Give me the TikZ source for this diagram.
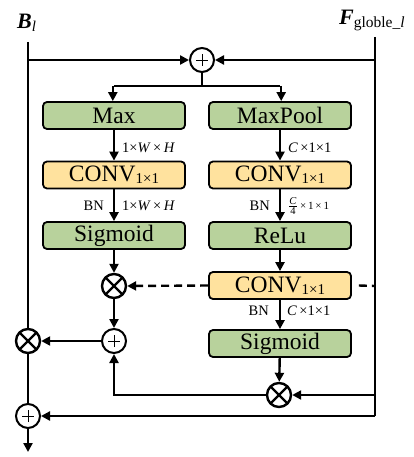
\documentclass[tikz,border=0pt]{standalone}
\usepackage{fontspec}
\setmainfont{Liberation Serif}
\usetikzlibrary{arrows.meta}
\definecolor{boxgreen}{RGB}{184,210,156}
\definecolor{boxyellow}{RGB}{255,226,158}
\tikzset{
  lw/.style={line width=2.4pt},
  arr/.style={lw,-{Triangle[length=9pt,width=9pt]}},
  gbox/.style={draw,line width=1.8pt,rounded corners=4pt,fill=boxgreen,minimum width=142pt,minimum height=27pt,inner sep=0pt,font=\fontsize{23.5}{25}\selectfont},
  ybox/.style={gbox,fill=boxyellow},
  oplus/.style={circle,draw,line width=2pt,minimum size=24pt,inner sep=0pt,fill=white,
    path picture={\draw[line width=0.9pt] ([xshift=-6pt]path picture bounding box.center) -- ([xshift=6pt]path picture bounding box.center);
      \draw[line width=0.9pt] ([yshift=-6pt]path picture bounding box.center) -- ([yshift=6pt]path picture bounding box.center);}},
  otimes/.style={circle,draw,line width=2.4pt,minimum size=24pt,inner sep=0pt,fill=white,
    path picture={\draw[line width=2.4pt] ([shift={(-8.5pt,-8.5pt)}]path picture bounding box.center) -- ([shift={(8.5pt,8.5pt)}]path picture bounding box.center);
      \draw[line width=2.4pt] ([shift={(-8.5pt,8.5pt)}]path picture bounding box.center) -- ([shift={(8.5pt,-8.5pt)}]path picture bounding box.center);}},
  lbl/.style={font=\fontsize{14.5}{16}\selectfont,inner sep=0pt},
}
\newcommand{\convtxt}{CONV\raisebox{-2pt}{\fontsize{15}{16}\selectfont 1×1}}
\begin{document}
\begin{tikzpicture}[x=1pt,y=-1pt]
\useasboundingbox (0,0) rectangle (413,457);
% labels
\node[anchor=base west,inner sep=0pt,font=\fontsize{22}{24}\selectfont] (blab) at (17,29) {\textbf{\textit{B}}\raisebox{-3pt}{\fontsize{15}{16}\selectfont\textit{l}}};
\node[anchor=base west,inner sep=0pt,font=\fontsize{22}{24}\selectfont] (flab) at (339,25) {\textbf{\textit{F}}\raisebox{-3pt}{\fontsize{15.5}{17}\selectfont globle\_\textit{l}}};
% coordinates
\coordinate (Btop) at (28,42);
\coordinate (bj) at (28,60);
\coordinate (Ftop) at (375,37);
\coordinate (fj) at (375,60);
\coordinate (fdash) at (375,286);
\coordinate (fmul) at (375,395);
\coordinate (fbot) at (375,416);
\coordinate (brc) at (202,86);
\coordinate (lbr) at (114,86);
\coordinate (rbr) at (280,86);
\coordinate (outp) at (28,452);
% nodes
\node[oplus] (topadd) at (202,60) {};
\node[gbox] (max) at (114,115.5) {Max};
\node[ybox] (conv1) at (114,175) {\convtxt};
\node[gbox] (sig1) at (114,235.5) {Sigmoid};
\node[gbox] (pool) at (280,115.5) {MaxPool};
\node[ybox] (conv2) at (280,175) {\convtxt};
\node[gbox] (relu) at (280,235.5) {ReLu};
\node[ybox] (conv3) at (280,285.5) {\convtxt};
\node[gbox] (sig2) at (280,343.5) {Sigmoid};
\node[otimes] (mul1) at (114,286) {};
\node[oplus] (add1) at (114,341) {};
\node[otimes] (lmul) at (28,341) {};
\node[otimes] (mul2) at (279,395) {};
\node[oplus] (badd) at (28,416) {};
% edge labels
\node[lbl,anchor=west] (t1) at (122,148) {1×\textit{W}\,×\,\textit{H}};
\node[lbl,anchor=west] (t2) at (288,148) {\textit{C}\,×1×1};
\node[lbl,anchor=east] (t3) at (104,206) {BN};
\node[lbl,anchor=west] (t4) at (122,206) {1×\textit{W}\,×\,\textit{H}};
\node[lbl,anchor=east] (t5) at (270,206) {BN};
\node[lbl,anchor=west] (t6) at (288,206) {${\mbox{\fontsize{10.5}{10}\selectfont\textit{C}}}\over{\mbox{\fontsize{10.5}{10}\selectfont 4}}$\,{\fontsize{11}{12}\selectfont ×\,1\,×\,1}};
\node[lbl,anchor=east] (t7) at (269,311) {BN};
\node[lbl,anchor=west] (t8) at (287,311) {\textit{C}\,×1×1};
% connectors
\draw[lw] (Btop) -- (lmul.north);
\draw[arr] (bj) -- (topadd.west);
\draw[lw] (Ftop) -- (fbot);
\draw[arr] (fj) -- (topadd.east);
\draw[lw] (topadd.south) -- (brc);
\draw[lw] (lbr) -- (rbr);
\draw[arr] ([xshift=-1.2pt]lbr) -- ([xshift=-1.2pt]lbr |- max.north) ;
\draw[arr] ([xshift=1.2pt]rbr) -- ([xshift=1.2pt]rbr |- pool.north);
\draw[arr] (max) -- (conv1);
\draw[arr] (conv1) -- (sig1);
\draw[arr] (sig1) -- (mul1);
\draw[arr] (pool) -- (conv2);
\draw[arr] (conv2) -- (relu);
\draw[arr] (relu) -- (conv3);
\draw[arr] (conv3) -- (sig2);
\draw[arr] (sig2) -- (mul2);
\draw[arr,dashed,dash pattern=on 8pt off 5pt] (conv3.west) -- (mul1.east);
\draw[lw,dash pattern=on 8pt off 5pt] ([xshift=7pt]conv3.east) -- (fdash);
\draw[arr] (mul1) -- (add1);
\draw[arr] (add1) -- (lmul);
\draw[arr] (fmul) -- (mul2);
\draw[arr] (mul2.west) -| (add1.south);
\draw[arr] (fbot) -- (badd);
\draw[lw] (lmul) -- (badd);
\draw[arr] (badd.south) -- (outp);
\end{tikzpicture}
\end{document}
